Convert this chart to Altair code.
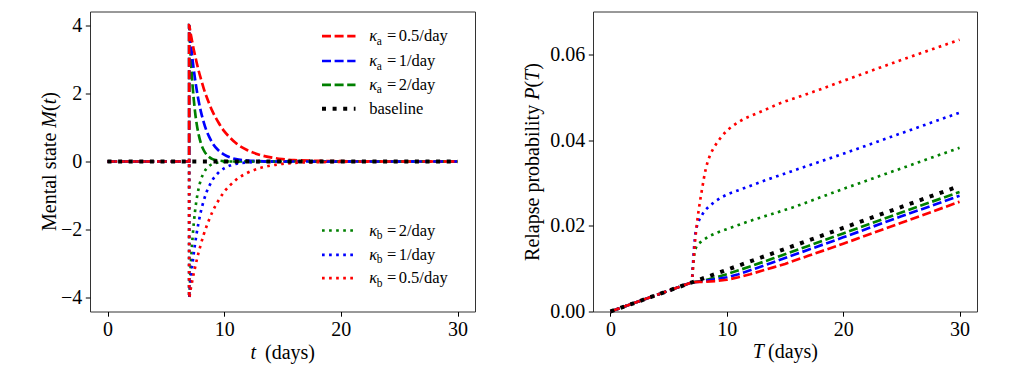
import altair as alt
import pandas as pd

# ---------------- Left panel: mental state M(t) ----------------
t_left = [0, 7, 7, 7.1, 7.2, 7.3, 7.4, 7.5, 7.65, 7.8, 8, 8.25, 8.5, 8.75, 9, 9.5,
          10, 10.5, 11, 12, 13, 14, 15, 16, 18, 20, 25, 30]
m_a05 = [0, 0, 4, 3.80, 3.62, 3.44, 3.27, 3.12, 2.89, 2.68, 2.43, 2.14, 1.89, 1.67, 1.47, 1.15,
         0.89, 0.70, 0.54, 0.33, 0.20, 0.12, 0.07, 0.04, 0.02, 0.01, 0, 0]
m_a1 = [0, 0, 4, 3.62, 3.27, 2.96, 2.68, 2.43, 2.09, 1.80, 1.47, 1.15, 0.89, 0.70, 0.54, 0.33,
        0.20, 0.12, 0.07, 0.03, 0.01, 0, 0, 0, 0, 0, 0, 0]
m_a2 = [0, 0, 4, 3.27, 2.68, 2.20, 1.80, 1.47, 1.09, 0.81, 0.54, 0.33, 0.20, 0.12, 0.07, 0.03,
        0.01, 0, 0, 0, 0, 0, 0, 0, 0, 0, 0, 0]
m_b2 = [0, 0, -4, -3.27, -2.68, -2.20, -1.80, -1.47, -1.09, -0.81, -0.54, -0.33, -0.20, -0.12, -0.07, -0.03,
        -0.01, 0, 0, 0, 0, 0, 0, 0, 0, 0, 0, 0]
m_b1 = [0, 0, -4, -3.62, -3.27, -2.96, -2.68, -2.43, -2.09, -1.80, -1.47, -1.15, -0.89, -0.70, -0.54, -0.33,
        -0.20, -0.12, -0.07, -0.03, -0.01, 0, 0, 0, 0, 0, 0, 0]
m_b05 = [0, 0, -4, -3.80, -3.62, -3.44, -3.27, -3.12, -2.89, -2.68, -2.43, -2.14, -1.89, -1.67, -1.47, -1.15,
         -0.89, -0.70, -0.54, -0.33, -0.20, -0.12, -0.07, -0.04, -0.02, -0.01, 0, 0]
t_base_left = [0, 30]
m_base = [0, 0]

# ---------------- Right panel: relapse probability P(T) ----------------
T_base = [0, 7, 15, 20, 30]
P_base = [0, 0.0068, 0.0146, 0.0195, 0.0293]
T_a05 = [0, 7, 7.5, 8, 9, 10, 11, 12, 13, 14, 15, 17, 20, 25, 30]
P_a05 = [0, 0.0068, 0.0069, 0.0069, 0.0071, 0.0074, 0.0080, 0.0087, 0.0095, 0.0103, 0.0111, 0.0130, 0.0158, 0.0207, 0.0256]
T_a1 = [0, 7, 7.5, 8, 9, 10, 11, 12, 14, 17, 20, 25, 30]
P_a1 = [0, 0.0068, 0.0069, 0.0071, 0.0075, 0.0080, 0.0087, 0.0096, 0.0115, 0.0144, 0.0173, 0.0222, 0.0270]
T_a2 = [0, 7, 7.5, 8, 9, 10, 12, 14, 17, 20, 25, 30]
P_a2 = [0, 0.0068, 0.0070, 0.0072, 0.0079, 0.0087, 0.0105, 0.0124, 0.0153, 0.0182, 0.0231, 0.0279]
T_b2 = [0, 7, 7.1, 7.2, 7.3, 7.4, 7.6, 7.94, 8.5, 9.08, 9.66, 10.8, 11.95, 13.7, 15.7, 20, 25, 30]
P_b2 = [0, 0.0068, 0.0108, 0.0133, 0.0146, 0.0152, 0.0159, 0.0166, 0.0176, 0.0183, 0.0189, 0.0200, 0.0211, 0.0226, 0.0243, 0.0286, 0.0334, 0.0382]
T_b1 = [0, 7, 7.1, 7.2, 7.3, 7.4, 7.5, 7.65, 7.8, 8.08, 8.5, 9, 9.5, 10.1, 11.2, 12.4, 13.5, 14.8, 16.4, 20, 25, 30]
P_b1 = [0, 0.0068, 0.0115, 0.0155, 0.0182, 0.0196, 0.0205, 0.0215, 0.0222, 0.0235, 0.0246, 0.0257, 0.0266, 0.0274, 0.0285, 0.0297, 0.0308, 0.0320, 0.0335, 0.0368, 0.0416, 0.0464]
T_b05 = [0, 7, 7.1, 7.2, 7.3, 7.4, 7.5, 7.6, 7.75, 7.9, 8.05, 8.2, 8.38, 8.6, 8.88, 9.23, 9.6, 10, 10.46, 10.95,
         11.5, 12.1, 13.24, 14.4, 15.5, 16.1, 18, 20, 25, 30]
P_b05 = [0, 0.0068, 0.0105, 0.0142, 0.0172, 0.0198, 0.0220, 0.0240, 0.0266, 0.0290, 0.0314, 0.0334, 0.0352, 0.0368,
         0.0382, 0.0397, 0.0410, 0.0422, 0.0432, 0.0441, 0.0450, 0.0457, 0.0470, 0.0484, 0.0495, 0.0500, 0.0518,
         0.0538, 0.0587, 0.0634]

FONT = "'Liberation Serif', 'Times New Roman', Times, serif"
DASH = [9, 3.6]
DOT = [2.67, 4.4]
STYLE = {
    "a05": dict(color="red", strokeDash=DASH, strokeWidth=2.67),
    "a1": dict(color="blue", strokeDash=DASH, strokeWidth=2.67),
    "a2": dict(color="green", strokeDash=DASH, strokeWidth=2.67),
    "base": dict(color="black", strokeDash=[4, 6.6], strokeWidth=4),
    "b2": dict(color="green", strokeDash=DOT, strokeWidth=2.67),
    "b1": dict(color="blue", strokeDash=DOT, strokeWidth=2.67),
    "b05": dict(color="red", strokeDash=DOT, strokeWidth=2.67),
}

dummy = pd.DataFrame({"d": [0]})


def series_df(xs, ys):
    return pd.DataFrame({"x": xs, "y": ys, "i": list(range(len(xs)))})


def line_layer(xs, ys, key, X, Y, interp):
    return alt.Chart(series_df(xs, ys)).mark_line(interpolate=interp, **STYLE[key]).encode(
        x=X, y=Y, order="i:Q")


def txt(x, y, s, size=16.5, style="normal", angle=0, align="left", baseline="middle"):
    return alt.Chart(dummy).mark_text(
        text=s, font=FONT, fontSize=size, fontStyle=style, angle=angle,
        align=align, baseline=baseline, color="black").encode(x=alt.value(x), y=alt.value(y))


def seg(x1, x2, y, key):
    return alt.Chart(dummy).mark_rule(**STYLE[key]).encode(
        x=alt.value(x1), x2=alt.value(x2), y=alt.value(y))


xscale = alt.Scale(domain=[-1.5, 31.5], nice=False, zero=False)
X = alt.X("x:Q", scale=xscale, axis=alt.Axis(values=[0, 10, 20, 30], format="d", title=None))
YL = alt.Y("y:Q", scale=alt.Scale(domain=[-4.4, 4.4], nice=False),
           axis=alt.Axis(values=[-4, -2, 0, 2, 4], format="d", title=None))
YR = alt.Y("y:Q", scale=alt.Scale(domain=[0, 0.07], nice=False),
           axis=alt.Axis(values=[0, 0.02, 0.04, 0.06], format=".2f", title=None))

# ---- left layers (drawing order: dashed, dotted, baseline on top)
left_lines = [
    line_layer(t_left, m_a2, "a2", X, YL, "monotone"),
    line_layer(t_left, m_a1, "a1", X, YL, "monotone"),
    line_layer(t_left, m_a05, "a05", X, YL, "monotone"),
    line_layer(t_left, m_b2, "b2", X, YL, "monotone"),
    line_layer(t_left, m_b1, "b1", X, YL, "monotone"),
    line_layer(t_left, m_b05, "b05", X, YL, "monotone"),
    line_layer(t_base_left, m_base, "base", X, YL, "linear"),
]

legend = []
LX1, LX2 = 232, 265.5
KX, SUBX, EQX, VX = 279.3, 286.8, 297, 308.7
top_rows = [("a05", "a", "0.5/day", 24.7), ("a1", "a", "1/day", 49.5),
            ("a2", "a", "2/day", 73.3), ("base", None, "baseline", 97.3)]
bot_rows = [("b2", "b", "2/day", 219), ("b1", "b", "1/day", 243.3), ("b05", "b", "0.5/day", 266.7)]
for key, sub, label, y in top_rows + bot_rows:
    legend.append(seg(LX1, LX2, y, key))
    if sub is None:
        legend.append(txt(KX, y, label))
    else:
        legend.append(txt(KX, y, "κ", style="italic"))
        legend.append(txt(SUBX, y + 8.5, sub, size=11.5, baseline="alphabetic"))
        legend.append(txt(EQX, y, "="))
        legend.append(txt(VX, y, label))

left_titles = [
    txt(-34.5, 219.5, "Mental state", size=20, angle=270, baseline="alphabetic"),
    txt(-34.5, 116.2, "M", size=20, style="italic", angle=270, baseline="alphabetic"),
    txt(-34.5, 99.5, "(", size=20, angle=270, baseline="alphabetic"),
    txt(-34.5, 92.8, "t", size=20, style="italic", angle=270, baseline="alphabetic"),
    txt(-34.5, 87.2, ")", size=20, angle=270, baseline="alphabetic"),
    txt(160.5, 347, "t", size=20, style="italic", baseline="alphabetic"),
    txt(175, 347, "(days)", size=20, baseline="alphabetic"),
]

left = alt.layer(*left_lines, *legend, *left_titles).properties(width=385, height=300)

# ---- right layers
right_lines = [
    line_layer(T_a2, P_a2, "a2", X, YR, "linear"),
    line_layer(T_a1, P_a1, "a1", X, YR, "linear"),
    line_layer(T_a05, P_a05, "a05", X, YR, "linear"),
    line_layer(T_b2, P_b2, "b2", X, YR, "linear"),
    line_layer(T_b1, P_b1, "b1", X, YR, "linear"),
    line_layer(T_b05, P_b05, "b05", X, YR, "linear"),
    line_layer(T_base, P_base, "base", X, YR, "linear"),
]
right_titles = [
    txt(-54.5, 249.4, "Relapse probability", size=20, angle=270, baseline="alphabetic"),
    txt(-54.5, 88.3, "P", size=20, style="italic", angle=270, baseline="alphabetic"),
    txt(-54.5, 76.1, "(", size=20, angle=270, baseline="alphabetic"),
    txt(-54.5, 69.4, "T", size=20, style="italic", angle=270, baseline="alphabetic"),
    txt(-54.5, 58.3, ")", size=20, angle=270, baseline="alphabetic"),
    txt(159.7, 346.5, "T", size=20, style="italic", baseline="alphabetic"),
    txt(175, 346.5, "(days)", size=20, baseline="alphabetic"),
]
right = alt.layer(*right_lines, *right_titles).properties(width=384, height=300)

chart = alt.hconcat(left, right, spacing=118, bounds="flush").properties(
    padding={"left": 38, "top": 10.5, "right": 5, "bottom": 5}
).configure_view(stroke="#333333", strokeWidth=1).configure_axis(
    labelFont=FONT, labelFontSize=20, labelColor="black", tickColor="black",
    tickSize=4.7, tickWidth=1, domain=False, grid=False, labelPadding=3.5
)

chart.save("out.html", embed_options={"renderer": "svg", "actions": False})
